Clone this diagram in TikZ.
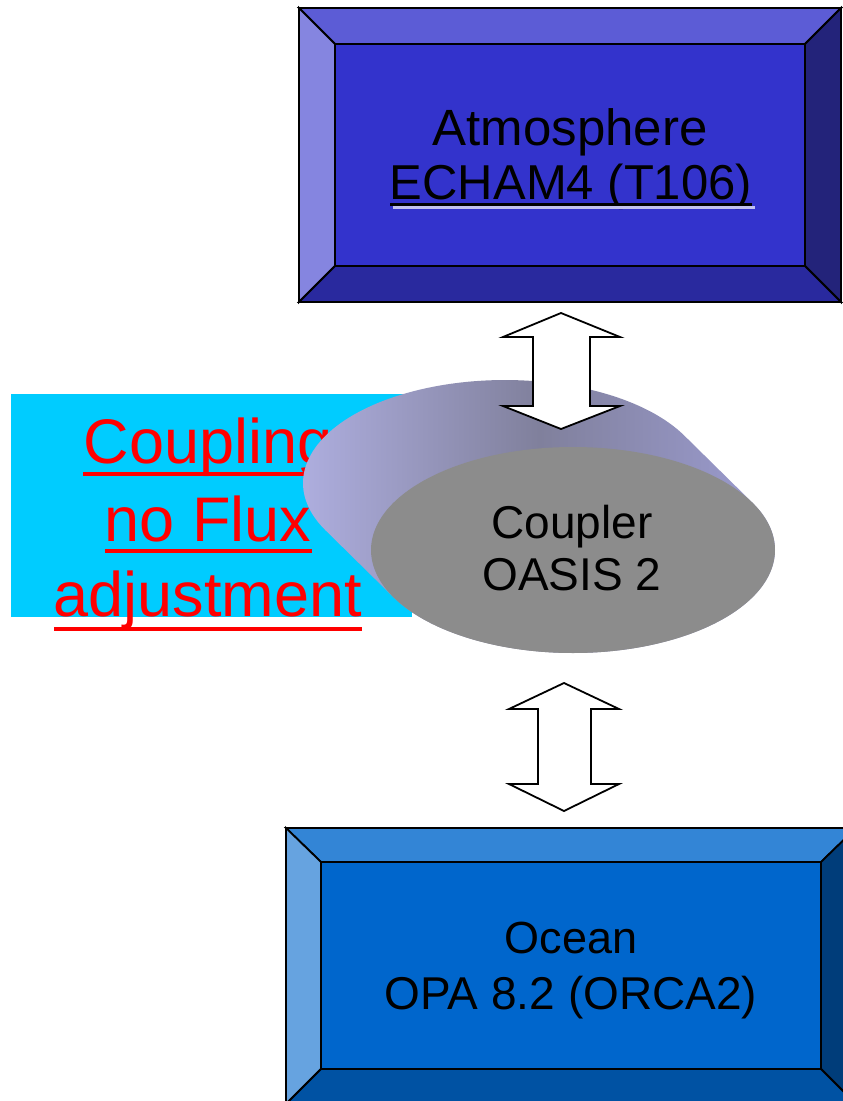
\documentclass[tikz,border=0pt]{standalone}
\usepackage{fontspec}
\setmainfont{Liberation Sans}
\definecolor{cyanbg}{HTML}{00CCFF}
\definecolor{redtxt}{HTML}{FF0000}
\definecolor{atin}{HTML}{3333CC}
\definecolor{attop}{HTML}{5C5CD6}
\definecolor{atleft}{HTML}{8585E0}
\definecolor{atright}{HTML}{23237A}
\definecolor{atbot}{HTML}{29299E}
\definecolor{ocin}{HTML}{0066CC}
\definecolor{octop}{HTML}{3385D6}
\definecolor{ocleft}{HTML}{66A3E0}
\definecolor{ocright}{HTML}{003D7A}
\definecolor{ocbot}{HTML}{0052A3}
\definecolor{cylfront}{HTML}{8C8C8C}
\definecolor{cylA}{HTML}{B3B3E6}
\definecolor{cylB}{HTML}{80809C}
\definecolor{cylC}{HTML}{A0A0D8}
\tikzset{
  bev/.style={draw=black, line width=1.8pt, line join=miter},
  blockarrow/.style={draw=black, fill=white, line width=1.8pt, line join=miter},
  boxtxt/.style={inner sep=0pt, anchor=base, text=black},
  redline/.style={inner sep=0pt, anchor=base, text=redtxt, font=\fontsize{63}{70}\selectfont},
}
\begin{document}
\begin{tikzpicture}[x=1pt,y=1pt]
\clip (0,0) rectangle (843,-1101);
\fill[white] (0,0) rectangle (843,-1101);

% cyan box with red text
\fill[cyanbg] (11,-394) rectangle (412,-617);
\node[redline] (c1) at (208,-463) {Coupling};
\node[redline] (c2) at (208,-541) {no Flux};
\node[redline] (c3) at (208,-616) {adjustment};
\foreach \n/\d in {c1/9,c2/8,c3/11}{
  \fill[redtxt] ([yshift=-\d pt]\n.base west) rectangle ([yshift=-\d pt-4pt]\n.base east);
}

% coupler cylinder
\shade[left color=cylA, right color=cylC, middle color=cylB]
  (684.4,-435.7) arc[start angle=27.36, end angle=207.36, x radius=202pt, y radius=103pt]
  -- (393.6,-597.3) arc[start angle=207.36, end angle=387.36, x radius=202pt, y radius=103pt]
  -- cycle;
\fill[cylfront] (573,-550) ellipse [x radius=202pt, y radius=103pt];
\node[boxtxt, font=\fontsize{46}{52}\selectfont] (cp1) at (572,-538) {Coupler};
\node[boxtxt, font=\fontsize{46}{52}\selectfont] (cp2) at (572,-590) {OASIS 2};

% arrow atmosphere <-> coupler
\draw[blockarrow] (561,-313) -- (620,-337) -- (590,-337) -- (590,-406) -- (620,-406)
  -- (561,-429) -- (503,-406) -- (533,-406) -- (533,-337) -- (503,-337) -- cycle;

% atmosphere box
\filldraw[bev, fill=attop] (299,-8) -- (841,-8) -- (805,-44) -- (335,-44) -- cycle;
\filldraw[bev, fill=atleft] (299,-8) -- (335,-44) -- (335,-266) -- (299,-302) -- cycle;
\filldraw[bev, fill=atright] (841,-8) -- (841,-302) -- (805,-266) -- (805,-44) -- cycle;
\filldraw[bev, fill=atbot] (299,-302) -- (841,-302) -- (805,-266) -- (335,-266) -- cycle;
\filldraw[bev, fill=atin] (335,-44) rectangle (805,-266);
\node[boxtxt, font=\fontsize{51}{55}\selectfont] (a1) at (570,-145) {Atmosphere};
\node[boxtxt, font=\fontsize{49}{55}\selectfont] (a2) at (571,-199) {ECHAM4 (T106)};
\fill[atin!30!white] ([yshift=-7pt,xshift=3pt]a2.base west) rectangle ([yshift=-9.5pt,xshift=3pt]a2.base east);
\fill[black] ([yshift=-4pt]a2.base west) rectangle ([yshift=-7pt]a2.base east);

% arrow coupler <-> ocean
\draw[blockarrow] (564,-683) -- (619,-709) -- (591,-709) -- (591,-784) -- (619,-784)
  -- (564,-811) -- (509,-784) -- (538,-784) -- (538,-709) -- (509,-709) -- cycle;

% ocean box
\filldraw[bev, fill=octop] (286,-828) -- (856,-828) -- (821,-862) -- (321,-862) -- cycle;
\filldraw[bev, fill=ocleft] (286,-828) -- (321,-862) -- (321,-1069) -- (286,-1104) -- cycle;
\filldraw[bev, fill=ocright] (856,-828) -- (856,-1104) -- (821,-1069) -- (821,-862) -- cycle;
\filldraw[bev, fill=ocbot] (286,-1104) -- (856,-1104) -- (821,-1069) -- (321,-1069) -- cycle;
\filldraw[bev, fill=ocin] (321,-862) rectangle (821,-1069);
\node[boxtxt, font=\fontsize{45}{51}\selectfont] (o1) at (571,-953) {Ocean};
\node[boxtxt, font=\fontsize{46}{51}\selectfont] (o2) at (571,-1009) {OPA 8.2 (ORCA2)};
\end{tikzpicture}
\end{document}
